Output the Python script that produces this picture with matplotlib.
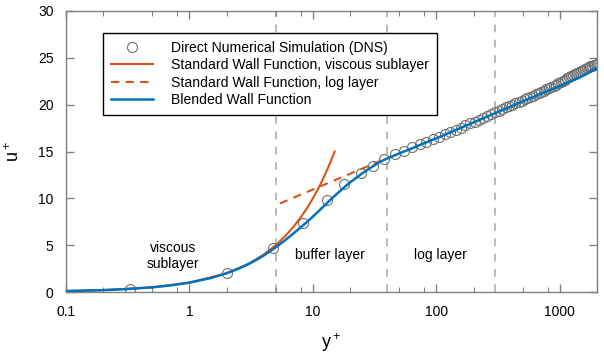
import numpy as np
import matplotlib
matplotlib.use('Agg')
import matplotlib.pyplot as plt
from matplotlib.ticker import FixedLocator, NullFormatter

plt.rcParams['font.family'] = ['Liberation Sans', 'DejaVu Sans']
plt.rcParams['mathtext.default'] = 'regular'

# DNS profile
dns_y = [0.33, 2.0, 4.72, 8.35, 12.9, 17.9, 24.3, 30.8, 37.8, 46.1, 54.5, 63.5, 73, 83, 94,
         105, 117, 130, 143, 157, 172, 188, 204, 221, 239, 258, 278, 298, 319, 341, 364,
         388, 412, 437, 463, 490, 518, 547, 577, 608, 640, 673, 707, 742, 778, 815, 853,
         892, 932, 973, 1015, 1058, 1102, 1147, 1193, 1240, 1288, 1337, 1387, 1438, 1490,
         1543, 1597, 1652, 1708, 1765, 1823, 1882, 1942, 1985]
dns_u = [0.35, 2.0, 4.67, 7.40, 9.82, 11.5, 12.67, 13.5, 14.2, 14.7, 15.1, 15.45, 15.75, 16.05, 16.33,
         16.6, 16.85, 17.1, 17.33, 17.56, 17.78, 18.0, 18.2, 18.4, 18.6, 18.8, 19.0, 19.2, 19.37, 19.53, 19.7,
         19.85, 20.0, 20.15, 20.3, 20.43, 20.57, 20.7, 20.84, 20.97, 21.1, 21.23, 21.36, 21.49, 21.62, 21.75, 21.88,
         22.0, 22.13, 22.26, 22.4, 22.53, 22.67, 22.8, 22.93, 23.06, 23.18, 23.3, 23.42, 23.53, 23.64,
         23.74, 23.84, 23.93, 24.01, 24.09, 24.16, 24.22, 24.27, 24.3]

# standard wall function, viscous sublayer (u+ = y+)
visc_y = [0.1, 0.2, 0.5, 1, 2, 3, 4, 5, 6, 7, 8, 9, 10, 11, 12, 13, 14, 15]
visc_u = [0.1, 0.2, 0.5, 1, 2, 3, 4, 5, 6, 7, 8, 9, 10, 11, 12, 13, 14, 15]

# standard wall function, log layer (straight on a log axis)
log_y = [5.4, 36]
log_u = [9.45, 14.05]

# blended wall function
blend_y = [0.1, 0.2, 0.3, 0.5, 0.7, 1, 1.5, 2, 2.5, 3, 3.5, 4, 4.5, 5, 6, 7, 8, 9, 10,
           12, 14, 16, 18, 20, 25, 30, 35, 40, 50, 60, 80, 100, 150, 200, 300, 500, 700,
           1000, 1500, 2000]
blend_u = [0.1, 0.2, 0.3, 0.5, 0.7, 1.0, 1.5, 2.0, 2.49, 2.97, 3.44, 3.9, 4.35, 4.77, 5.56, 6.28, 6.93, 7.5, 8.05,
           9.05, 9.9, 10.6, 11.2, 11.7, 12.65, 13.35, 13.9, 14.25, 14.8, 15.2, 15.9, 16.4, 17.4, 18.1, 19.1, 20.35, 21.15,
           22.0, 23.0, 23.9]

region_edges = [5, 40, 300]

blue = '#0072BD'
orange = '#D95319'
frame = '#808080'

fig = plt.figure(figsize=(6.04, 3.54), dpi=100)
ax = fig.add_axes([66 / 604, 62 / 354, 531 / 604, 281 / 354])

for xv in region_edges:
    ax.axvline(xv, color='#a6a6a6', ls=(0, (5, 5)), lw=1.1, zorder=1)

ax.plot(dns_y, dns_u, ls='none', marker='o', ms=7.2, mfc='none', mec='#707070', mew=0.8,
        label='Direct Numerical Simulation (DNS)', zorder=2)
ax.plot(visc_y, visc_u, color=orange, lw=1.5, label='Standard Wall Function, viscous sublayer', zorder=3)
ax.plot(log_y, log_u, color=orange, lw=1.5, ls=(0, (4, 3)), label='Standard Wall Function, log layer', zorder=3)
ax.plot(blend_y, blend_u, color=blue, lw=1.8, label='Blended Wall Function', zorder=4)

ax.set_xscale('log')
ax.set_xlim(0.1, 2000)
ax.set_ylim(0, 30)
ax.set_xticks([0.1, 1, 10, 100, 1000])
ax.set_xticklabels(['0.1', '1', '10', '100', '1000'])
minor = [m * 10.0 ** e for e in range(-1, 4) for m in (2, 5, 8)]
ax.xaxis.set_minor_locator(FixedLocator(minor))
ax.xaxis.set_minor_formatter(NullFormatter())
ax.set_yticks(range(0, 31, 5))

for s in ax.spines.values():
    s.set_color(frame)
    s.set_linewidth(1.0)
ax.tick_params(which='both', direction='in', top=True, right=True, color=frame, labelsize=10)
ax.tick_params(which='major', length=6, width=1.0, pad=9)
ax.tick_params(which='minor', length=3.5, width=0.8)

ax.set_xlabel('y$^+$', fontsize=13, labelpad=9)
ax.set_ylabel('u$^+$', fontsize=13, labelpad=11)

ax.text(0.735, 3.85, 'viscous\nsublayer', ha='center', va='center', fontsize=10, linespacing=1.25)
ax.text(13.7, 3.95, 'buffer layer', ha='center', va='center', fontsize=10)
ax.text(108, 3.95, 'log layer', ha='center', va='center', fontsize=10)

leg = ax.legend(loc='upper left', bbox_to_anchor=(103 / 604, 1 - 33 / 354), bbox_transform=fig.transFigure,
                fancybox=False, framealpha=1, edgecolor='black', fontsize=10.1, handlelength=3.0,
                borderpad=0.55, labelspacing=0.25, handletextpad=1.3, borderaxespad=0)
leg.get_frame().set_linewidth(1.0)

fig.savefig('out.png', dpi=100)
